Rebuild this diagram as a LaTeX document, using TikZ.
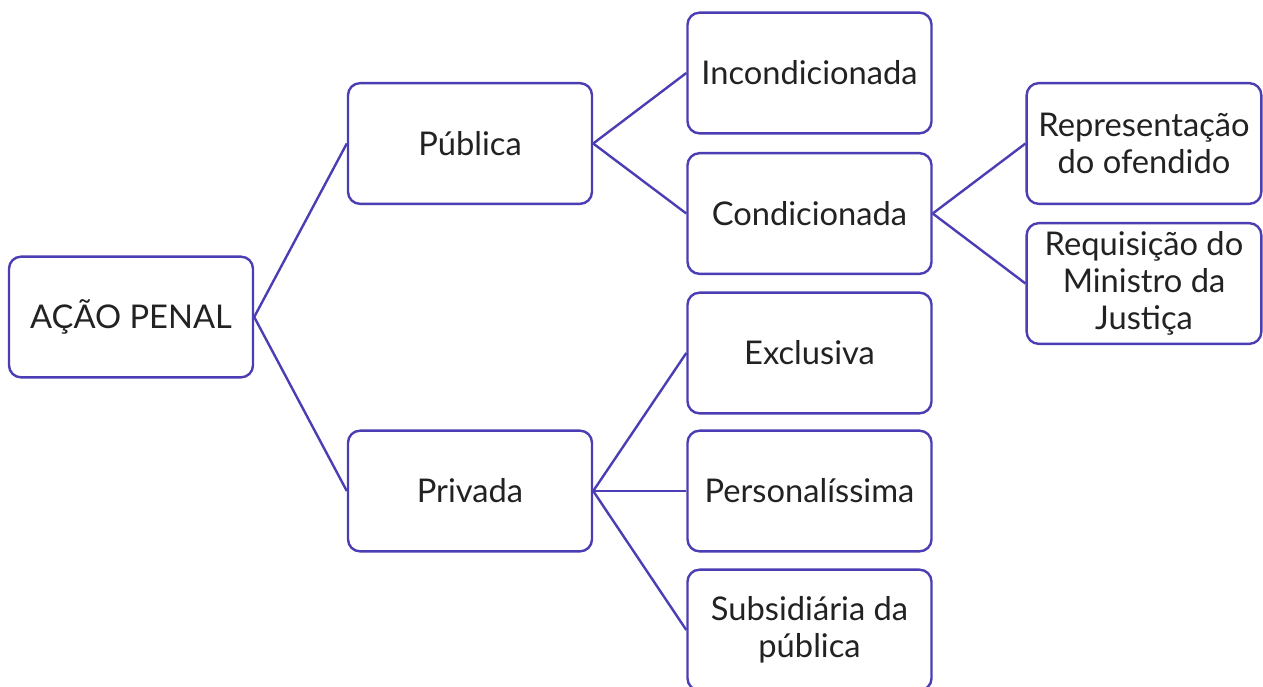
\documentclass[tikz,border=0pt]{standalone}
\usepackage{fontspec}
\setmainfont{Lato}
\definecolor{linecol}{HTML}{4B3DB3}
\definecolor{textcol}{HTML}{222222}
\begin{document}
\begin{tikzpicture}[x=0.75pt,y=-0.75pt,
  box/.style={draw=linecol, line width=1.8pt, rounded corners=9pt, fill=white,
    minimum width=183pt, minimum height=90.5pt, align=center, text=textcol,
    font=\fontsize{24.5}{27.5}\selectfont, inner sep=0pt},
  link/.style={draw=linecol, line width=1.8pt}]
\useasboundingbox (0,0) rectangle (1263,686);
\clip (0,0) rectangle (1263,686);
\node[box] (acao) at (131,317) {AÇÃO PENAL};
\node[box] (pub) at (470,143.5) {Pública};
\node[box] (priv) at (470,491) {Privada};
\node[box] (incond) at (809.5,73) {Incondicionada};
\node[box] (cond) at (809.5,213.5) {Condicionada};
\node[box] (excl) at (809.5,353) {Exclusiva};
\node[box] (pers) at (809.5,491) {Personalíssima};
\node[box] (subs) at (809.5,630) {Subsidiária da\\pública};
\node[box, minimum width=176pt] (repr) at (1144,143.5) {Representação\\do ofendido};
\node[box, minimum width=176pt] (req) at (1144,283.5) {Requisição do\\Ministro da\\Justiça};
\draw[link] (acao.east) -- (pub.west);
\draw[link] (acao.east) -- (priv.west);
\draw[link] (pub.east) -- (incond.west);
\draw[link] (pub.east) -- (cond.west);
\draw[link] (cond.east) -- (repr.west);
\draw[link] (cond.east) -- (req.west);
\draw[link] (priv.east) -- (excl.west);
\draw[link] (priv.east) -- (pers.west);
\draw[link] (priv.east) -- (subs.west);
\end{tikzpicture}
\end{document}
